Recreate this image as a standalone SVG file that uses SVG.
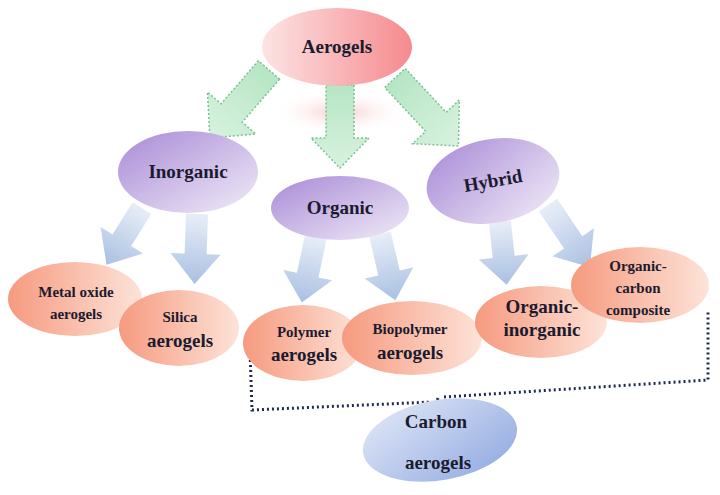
<svg xmlns="http://www.w3.org/2000/svg" width="720" height="495" viewBox="0 0 720 495">
<defs>
<linearGradient id="gPink" x1="0" y1="0" x2="1" y2="0"><stop offset="0" stop-color="#fde4e4"/><stop offset="1" stop-color="#f58a8e"/></linearGradient>
<linearGradient id="gPurple" x1="0" y1="0" x2="1" y2="1"><stop offset="0" stop-color="#a88ad6"/><stop offset="1" stop-color="#f1ecf8"/></linearGradient>
<linearGradient id="gOrange" x1="0" y1="0" x2="1" y2="0"><stop offset="0" stop-color="#f69a7f"/><stop offset="1" stop-color="#fde3d8"/></linearGradient>
<linearGradient id="gBlue" x1="0" y1="0" x2="1" y2="1"><stop offset="0" stop-color="#e3e9f8"/><stop offset="1" stop-color="#8fa8e0"/></linearGradient>
<linearGradient id="gGreen" x1="0" y1="0" x2="1" y2="0"><stop offset="0" stop-color="#b6e6c4"/><stop offset="1" stop-color="#d8f2df"/></linearGradient>
<linearGradient id="gArrow" x1="0" y1="0" x2="1" y2="0"><stop offset="0" stop-color="#e8eef8"/><stop offset="1" stop-color="#a9c0e2"/></linearGradient>
<radialGradient id="glow"><stop offset="0" stop-color="#f7b6b6" stop-opacity="0.7"/><stop offset="1" stop-color="#ffffff" stop-opacity="0"/></radialGradient>
</defs>
<style>
text{font-family:"Liberation Serif","Times New Roman",serif;font-weight:bold;fill:#1b1b2f;text-anchor:middle}
.big{font-size:19px}
.sm{font-size:15px}
.green{fill:url(#gGreen);stroke:#7cc28e;stroke-width:1.5;stroke-dasharray:2,2}
.blue{fill:url(#gArrow)}
.br{fill:none;stroke:#1f2a4f;stroke-width:3;stroke-dasharray:2,3}
</style>
<rect width="720" height="495" fill="#ffffff"/>
<ellipse cx="340" cy="112" rx="70" ry="22" fill="url(#glow)"/>
<g id="connectors">
<path class="green" transform="translate(269,70) rotate(131)" d="M0,-14 L57,-14 L57,-32 L90,0 L57,32 L57,14 L0,14 Z"/>
<path class="green" transform="translate(340,85) rotate(90)" d="M0,-14 L53,-14 L53,-29 L83,0 L53,29 L53,14 L0,14 Z"/>
<path class="green" transform="translate(395,78) rotate(47)" d="M0,-14 L60,-14 L60,-32 L93,0 L60,32 L60,14 L0,14 Z"/>
<path class="blue" transform="translate(142,208) rotate(122)" d="M0,-11 L38,-11 L38,-25 L67,0 L38,25 L38,11 L0,11 Z"/>
<path class="blue" transform="translate(197,214) rotate(92)" d="M0,-11 L40,-11 L40,-25 L70,0 L40,25 L40,11 L0,11 Z"/>
<path class="blue" transform="translate(316,236) rotate(102)" d="M0,-11 L40,-11 L40,-25 L68,0 L40,25 L40,11 L0,11 Z"/>
<path class="blue" transform="translate(380,234) rotate(77)" d="M0,-11 L40,-11 L40,-25 L68,0 L40,25 L40,11 L0,11 Z"/>
<path class="blue" transform="translate(500,222) rotate(84)" d="M0,-11 L35,-11 L35,-25 L63,0 L35,25 L35,11 L0,11 Z"/>
<path class="blue" transform="translate(548,205) rotate(56)" d="M0,-11 L45,-11 L45,-25 L75,0 L45,25 L45,11 L0,11 Z"/>
<path class="br" d="M250,350 L252,410 L432,402 M444,397 L708,380 L708,312 M438,398 L434,410"/>
</g>
<g id="aerogels"><ellipse cx="337" cy="47" rx="75" ry="39" fill="url(#gPink)"/><text class="big" x="337" y="53">Aerogels</text></g>
<g id="inorganic"><ellipse cx="188" cy="172" rx="70" ry="41" fill="url(#gPurple)"/><text class="big" x="188" y="178">Inorganic</text></g>
<g id="organic"><ellipse cx="340" cy="208" rx="69" ry="32" fill="url(#gPurple)"/><text class="big" x="340" y="214">Organic</text></g>
<g id="hybrid"><ellipse cx="493" cy="181" rx="67" ry="42" transform="rotate(-10 493 181)" fill="url(#gPurple)"/><text class="big" x="493" y="187" transform="rotate(-10 493 181)">Hybrid</text></g>
<g id="metal-oxide"><ellipse cx="75" cy="299" rx="67" ry="37" fill="url(#gOrange)"/><text class="sm" x="76" y="297">Metal oxide</text><text class="sm" x="76" y="319">aerogels</text></g>
<g id="silica"><ellipse cx="179" cy="328" rx="60" ry="38" fill="url(#gOrange)"/><text class="sm" x="180" y="322">Silica</text><text class="big" x="180" y="347">aerogels</text></g>
<g id="polymer"><ellipse cx="303" cy="343" rx="60" ry="38" fill="url(#gOrange)"/><text class="sm" x="304" y="337">Polymer</text><text class="big" x="304" y="361">aerogels</text></g>
<g id="biopolymer"><ellipse cx="412" cy="338" rx="70" ry="37" fill="url(#gOrange)"/><text class="sm" x="410" y="334">Biopolymer</text><text class="big" x="410" y="359">aerogels</text></g>
<g id="organic-inorganic"><ellipse cx="541" cy="322" rx="66" ry="36" fill="url(#gOrange)"/><text class="big" x="542" y="313">Organic-</text><text class="big" x="542" y="336">inorganic</text></g>
<g id="organic-carbon"><ellipse cx="640" cy="285" rx="69" ry="38" fill="url(#gOrange)"/><text class="sm" x="638" y="271">Organic-</text><text class="sm" x="638" y="293">carbon</text><text class="sm" x="638" y="315">composite</text></g>
<g id="carbon"><ellipse cx="440" cy="440" rx="78" ry="40" transform="rotate(-10 440 440)" fill="url(#gBlue)"/><text class="big" x="436" y="428">Carbon</text><text class="big" x="438" y="469">aerogels</text></g>
</svg>
